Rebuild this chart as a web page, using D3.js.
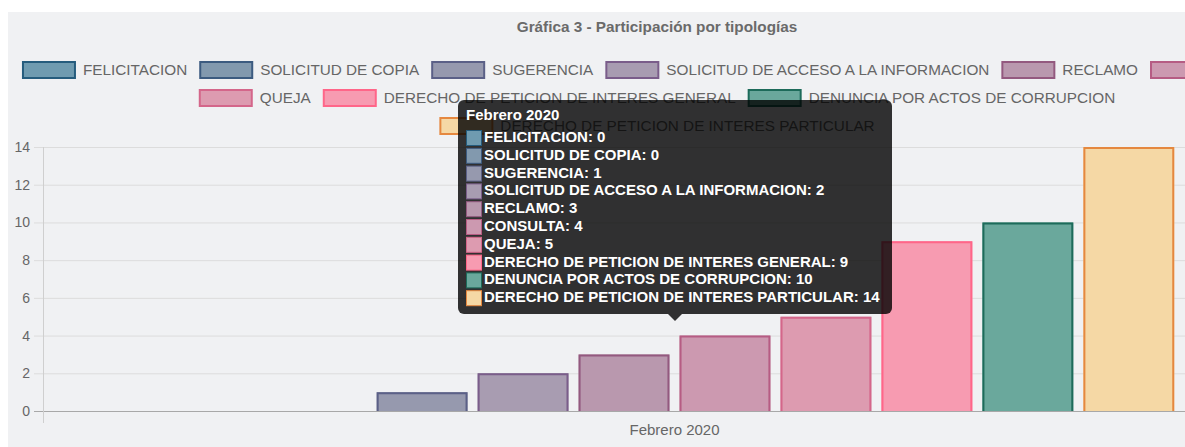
<!DOCTYPE html>
<html>
<head>
<meta charset="utf-8">
<script src="https://cdn.jsdelivr.net/npm/d3@7"></script>
<style>
  body { margin: 0; background: #fff; }
  svg { display: block; font-family: "Liberation Sans", Arial, sans-serif; }
</style>
</head>
<body>
<svg width="1185" height="447"></svg>
<script>
// data
var categories = ["Febrero 2020"];
var series = ["FELICITACION", "SOLICITUD DE COPIA", "SUGERENCIA", "SOLICITUD DE ACCESO A LA INFORMACION",
  "RECLAMO", "CONSULTA", "QUEJA", "DERECHO DE PETICION DE INTERES GENERAL",
  "DENUNCIA POR ACTOS DE CORRUPCION", "DERECHO DE PETICION DE INTERES PARTICULAR"];
var values = [0, 0, 1, 2, 3, 4, 5, 9, 10, 14];
var yTicks = [0, 2, 4, 6, 8, 10, 12, 14];
var fills = ["#6f9bb0", "#8299ae", "#9699ae", "#a89cb1", "#b998ae", "#cc99b0", "#dd9bb0", "#f79bb1", "#6aa89c", "#f5d8a5"];
var borders = ["#255c7d", "#3c5b80", "#5b6087", "#7a5d8a", "#93597f", "#b65c83", "#d4668a", "#ff6689", "#1d6b5a", "#e5883f"];
var title = "Gráfica 3 - Participación por tipologías";

var svg = d3.select("svg");

svg.append("rect").attr("x", 8).attr("y", 12).attr("width", 1177).attr("height", 435).attr("fill", "#f0f1f3");

svg.append("text").attr("x", 657).attr("y", 32).attr("text-anchor", "middle")
  .attr("font-size", 15.3).attr("font-weight", "bold").attr("fill", "#6a6a6a").text(title);

// legend, wrapped in rows and centred like chart.js does it
var legend = svg.append("g");
var items = legend.selectAll("g").data(series).enter().append("g");
items.append("rect").attr("x", 1).attr("y", -8).attr("width", 52).attr("height", 16)
  .attr("fill", function(d, i){ return fills[i]; })
  .attr("stroke", function(d, i){ return borders[i]; }).attr("stroke-width", 2);
items.append("text").attr("x", 61).attr("y", 5).attr("font-size", 15.3).attr("fill", "#666")
  .text(function(d){ return d; });

var rows = [], row = [], rowW = 0, maxW = 1290;
items.each(function(d, i){
  var w = 61 + this.querySelector("text").getComputedTextLength() + 12;
  if (rowW + w > maxW && row.length) { rows.push({items: row, w: rowW}); row = []; rowW = 0; }
  row.push({el: this, w: w}); rowW += w;
});
rows.push({items: row, w: rowW});
rows.forEach(function(r, ri){
  var x = 657 - (r.w - 12) / 2;
  r.items.forEach(function(it){
    d3.select(it.el).attr("transform", "translate(" + x + "," + (70 + ri * 28) + ")");
    x += it.w;
  });
});

// scales
var y = d3.scaleLinear().domain([0, 14]).range([411, 147]);
var x = d3.scaleBand().domain(categories).range([43.5, 1305.5]);
var xs = d3.scaleBand().domain(series)
  .range([x(categories[0]) + x.bandwidth() * 0.1, x(categories[0]) + x.bandwidth() * 0.9])
  .paddingInner(0.1).paddingOuter(0.05);

// grid
var grid = svg.append("g");
grid.selectAll("line").data(yTicks).enter().append("line")
  .attr("x1", 34).attr("x2", 1185)
  .attr("y1", function(d){ return y(d) + 0.5; }).attr("y2", function(d){ return y(d) + 0.5; })
  .attr("stroke", function(d){ return d === 0 ? "#a8a8a8" : "#dcdcdc"; });
svg.append("line").attr("x1", 43.5).attr("x2", 43.5).attr("y1", y(14)).attr("y2", 423).attr("stroke", "#cfcfcf");

var yAxis = svg.append("g").attr("transform", "translate(30,0)")
  .call(d3.axisLeft(y).tickValues(yTicks).tickSize(0).tickPadding(0));
yAxis.select(".domain").remove();
yAxis.selectAll("text").attr("font-size", 14).attr("fill", "#666").attr("font-family", "Liberation Sans, Arial, sans-serif");

var xAxis = svg.append("g").attr("transform", "translate(0,420)")
  .call(d3.axisBottom(x).tickSize(0).tickPadding(0));
xAxis.select(".domain").remove();
xAxis.selectAll("text").attr("font-size", 15).attr("fill", "#666").attr("dy", "1em")
  .attr("font-family", "Liberation Sans, Arial, sans-serif");

// bars
var bars = svg.append("g").selectAll("g").data(values).enter().append("g");
bars.append("rect")
  .attr("x", function(d, i){ return xs(series[i]); })
  .attr("y", function(d){ return y(d); })
  .attr("width", xs.bandwidth())
  .attr("height", function(d){ return y(0) - y(d); })
  .attr("fill", function(d, i){ return fills[i]; });
bars.filter(function(d){ return d > 0; }).append("path")
  .attr("fill", "none").attr("stroke-width", 2)
  .attr("stroke", function(d){ return borders[values.indexOf(d)]; })
  .attr("d", function(d){
    var i = values.indexOf(d), x0 = xs(series[i]) + 1, x1 = xs(series[i]) + xs.bandwidth() - 1;
    return "M" + x0 + "," + y(0) + "V" + (y(d) + 1) + "H" + x1 + "V" + y(0);
  });

// tooltip
var tip = svg.append("g");
tip.append("rect").attr("x", 458).attr("y", 100).attr("width", 434).attr("height", 214).attr("rx", 6)
  .attr("fill", "rgba(0,0,0,0.8)");
tip.append("path").attr("d", "M668,314L675,321L682,314Z").attr("fill", "rgba(0,0,0,0.8)");
tip.append("text").attr("x", 466).attr("y", 120).attr("font-size", 15).attr("font-weight", "bold")
  .attr("fill", "#fff").text(categories[0]);
var lines = tip.selectAll("g.line").data(series).enter().append("g").attr("class", "line")
  .attr("transform", function(d, i){ return "translate(0," + (142 + i * 17.8) + ")"; });
lines.append("rect").attr("x", 466.5).attr("y", -11.5).attr("width", 15).attr("height", 15)
  .attr("fill", function(d, i){ return fills[i]; })
  .attr("stroke", function(d, i){ return borders[i]; }).attr("stroke-width", 1);
lines.append("text").attr("x", 484).attr("y", 0).attr("font-size", 15).attr("font-weight", "bold")
  .attr("fill", "#fff")
  .text(function(d, i){ return d + ": " + values[i]; });
</script>
</body>
</html>
